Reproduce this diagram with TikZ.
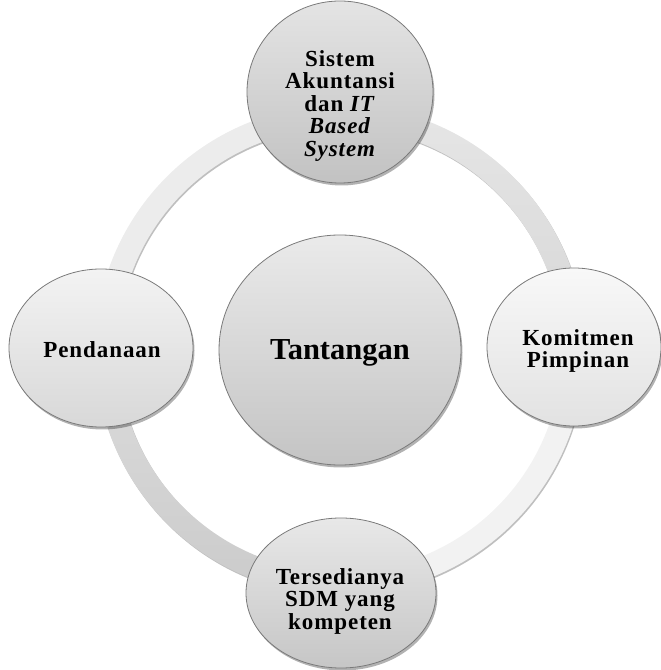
\documentclass[tikz,border=0pt]{standalone}
\usepackage{fontspec}
\setmainfont{Liberation Serif}
\newfontfamily\lblfont[LetterSpace=4]{Liberation Serif}
\usetikzlibrary{shapes.geometric,shadows}
\definecolor{ringA}{HTML}{ECECEC}
\definecolor{ringB1}{HTML}{E6E6E6}
\definecolor{ringB2}{HTML}{D6D6D6}
\definecolor{ringC}{HTML}{F2F2F2}
\definecolor{ringD1}{HTML}{DCDCDC}
\definecolor{ringD2}{HTML}{CBCBCB}
\definecolor{edgegray}{HTML}{7A7A7A}
\tikzset{
  bubble/.style={ellipse, draw=edgegray, line width=0.8pt, inner sep=0pt, outer sep=0pt,
    drop shadow={shadow xshift=1.5pt, shadow yshift=-2.5pt, opacity=0.3, fill=black}},
  ringseg/.style={draw=none, drop shadow={shadow xshift=1pt, shadow yshift=-1.5pt, opacity=0.25, fill=black}},
  lbl/.style={inner sep=0pt, align=center, font=\lblfont\fontsize{23}{22.5}\selectfont\bfseries},
  biglbl/.style={inner sep=0pt, font=\fontsize{30.5}{32}\selectfont\bfseries}
}
\begin{document}
\begin{tikzpicture}[x=1pt,y=1pt]
\useasboundingbox (0,0) rectangle (661,670);
\coordinate (c) at (340,320);
% ring, four quadrant segments
\path[ringseg, fill=ringA] (c) ++(90:245) arc[start angle=90,end angle=180,radius=245]
  -- ++(23,0) arc[start angle=180,end angle=90,radius=222] -- cycle;
\path[ringseg, top color=ringB1, bottom color=ringB2] (c) ++(0:245) arc[start angle=0,end angle=90,radius=245]
  -- ++(0,-23) arc[start angle=90,end angle=0,radius=222] -- cycle;
\path[ringseg, fill=ringC] (c) ++(270:245) arc[start angle=270,end angle=360,radius=245]
  -- ++(-23,0) arc[start angle=360,end angle=270,radius=222] -- cycle;
\path[ringseg, top color=ringD1, bottom color=ringD2] (c) ++(180:245) arc[start angle=180,end angle=270,radius=245]
  -- ++(0,23) arc[start angle=270,end angle=180,radius=222] -- cycle;
% bubbles
\node[bubble, minimum width=242pt, minimum height=230pt, top color={rgb,255:red,234;green,234;blue,234}, bottom color={rgb,255:red,196;green,196;blue,196}] (center) at (340,320) {};
\node[bubble, minimum width=186pt, minimum height=182pt, top color={rgb,255:red,228;green,228;blue,228}, bottom color={rgb,255:red,194;green,194;blue,194}] (top) at (340,578) {};
\node[bubble, minimum width=174pt, minimum height=158pt, top color={rgb,255:red,248;green,248;blue,248}, bottom color={rgb,255:red,226;green,226;blue,226}] (right) at (574,323) {};
\node[bubble, minimum width=184pt, minimum height=158pt, top color={rgb,255:red,243;green,243;blue,243}, bottom color={rgb,255:red,216;green,216;blue,216}] (left) at (101,322) {};
\node[bubble, minimum width=190pt, minimum height=150pt, top color={rgb,255:red,232;green,232;blue,232}, bottom color={rgb,255:red,198;green,198;blue,198}] (bottom) at (341,77) {};
% labels
\node[biglbl, anchor=base] (tcenter) at (340,310) {Tantangan};
\node[lbl] (ttop) at (340,564) {Sistem\\Akuntansi\\dan \textit{IT}\\\textit{Based}\\\textit{System}};
\node[lbl] (tright) at (578,319) {Komitmen\\Pimpinan};
\node[lbl, anchor=base] (tleft) at (102,312) {Pendanaan};
\node[lbl] (tbottom) at (340,69) {Tersedianya\\SDM yang\\kompeten};
\end{tikzpicture}
\end{document}
